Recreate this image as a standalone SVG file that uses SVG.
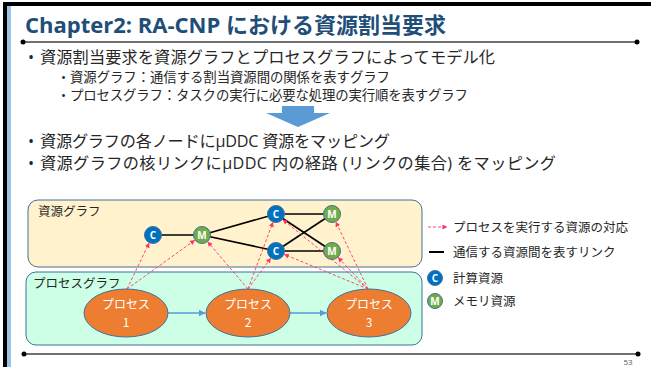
<svg xmlns="http://www.w3.org/2000/svg" width="651" height="367" viewBox="0 0 651 367">
<style>
.t{font-family:"Open Sans","Noto Sans CJK JP",sans-serif;fill:#262626}
.title{font-family:"Open Sans","Noto Sans CJK JP",sans-serif;font-weight:bold;font-size:22px;fill:#1F4E79}
.b1{font-size:16.2px}
.b2{font-size:13.4px}
.lbl{font-family:"Noto Sans CJK JP",sans-serif;font-size:12.5px;fill:#262626}
.nl{font-family:"Open Sans","Noto Sans CJK JP",sans-serif;font-weight:bold;font-size:10px;fill:#fff;text-anchor:middle}
.pl{font-family:"Noto Sans CJK JP",sans-serif;font-size:12px;fill:#fff;text-anchor:middle}
.cn{fill:#0070C0;stroke:#41719C;stroke-width:1}
.mn{fill:#70AD47;stroke:#41719C;stroke-width:1}
.edge{stroke:#000;stroke-width:1.6;fill:none}
.map{stroke:#FF3366;stroke-width:0.9;stroke-dasharray:3 2;fill:none;marker-end:url(#ra)}
.flow{stroke:#5B9BD5;stroke-width:1.5;fill:none;marker-end:url(#ba)}
.proc{fill:#ED7D31;stroke:#41719C;stroke-width:1}
.rule{stroke:#404040;stroke-width:1.5}
</style>
<defs>
<marker id="ra" viewBox="0 0 6 6" refX="5.5" refY="3" markerWidth="5" markerHeight="5" markerUnits="userSpaceOnUse" orient="auto"><path d="M0,0 L6,3 L0,6 z" fill="#FF3366"/></marker>
<marker id="ba" viewBox="0 0 6 6" refX="5.5" refY="3" markerWidth="7" markerHeight="7" markerUnits="userSpaceOnUse" orient="auto"><path d="M0,0 L6,3 L0,6 z" fill="#5B9BD5"/></marker>
</defs>
<rect width="651" height="367" fill="#fff"/>
<!-- frame -->
<rect x="3" y="2" width="648" height="4" fill="#000"/>
<rect x="3" y="2" width="4" height="365" fill="#000"/>
<rect x="7" y="6" width="4" height="361" fill="#9DC3E6"/>
<!-- title -->
<text class="title" x="25" y="33">Chapter2: RA-CNP における資源割当要求</text>
<line class="rule" x1="23" y1="42" x2="637" y2="42"/>
<circle cx="23" cy="42" r="2.5" fill="#000"/>
<circle cx="637" cy="42" r="2.5" fill="#000"/>
<!-- bullets -->
<text class="t b1" x="28" y="63">•</text>
<text class="t b1" x="40" y="63" textLength="455" lengthAdjust="spacing">資源割当要求を資源グラフとプロセスグラフによってモデル化</text>
<text class="t b2" x="61" y="82">•</text>
<text class="t b2" x="70" y="82" textLength="320" lengthAdjust="spacing">資源グラフ：通信する割当資源間の関係を表すグラフ</text>
<text class="t b2" x="61" y="100">•</text>
<text class="t b2" x="70" y="100" textLength="398" lengthAdjust="spacing">プロセスグラフ：タスクの実行に必要な処理の実行順を表すグラフ</text>
<path d="M282,106 H314 V113 H330 L298,127 L266,113 H282 Z" fill="#5B9BD5"/>
<text class="t b1" x="28" y="147">•</text>
<text class="t b1" x="40" y="147" textLength="350" lengthAdjust="spacing">資源グラフの各ノードにμDDC 資源をマッピング</text>
<text class="t b1" x="28" y="169">•</text>
<text class="t b1" x="40" y="169" textLength="516" lengthAdjust="spacing">資源グラフの核リンクにμDDC 内の経路 (リンクの集合) をマッピング</text>
<!-- boxes -->
<g id="resource-graph-box">
<rect x="28" y="200" width="394" height="67" rx="10" fill="#FFF2CC" stroke="#41719C" stroke-width="1"/>
<text class="lbl" x="38" y="216">資源グラフ</text>
</g>
<g id="process-graph-box">
<rect x="26" y="272" width="396" height="73" rx="10" fill="#CCFFE6" stroke="#41719C" stroke-width="1"/>
<text class="lbl" x="33" y="288">プロセスグラフ</text>
</g>
<!-- connectors -->
<g id="connectors">
<line class="edge" x1="153" y1="235" x2="202" y2="235"/>
<line class="edge" x1="202" y1="235" x2="276" y2="214"/>
<line class="edge" x1="202" y1="235" x2="276" y2="251"/>
<line class="edge" x1="276" y1="214" x2="332" y2="214"/>
<line class="edge" x1="276" y1="214" x2="332" y2="251"/>
<line class="edge" x1="276" y1="251" x2="332" y2="214"/>
<line class="edge" x1="276" y1="251" x2="332" y2="251"/>
<line class="flow" x1="168" y1="313" x2="205" y2="313"/>
<line class="flow" x1="290" y1="313" x2="326" y2="313"/>
</g>
<!-- nodes -->
<g id="c1"><circle class="cn" cx="153" cy="235" r="8.5"/><text class="nl" x="153" y="238.5">C</text></g>
<g id="m1"><circle class="mn" cx="202" cy="235" r="8.5"/><text class="nl" x="202" y="238.5">M</text></g>
<g id="c2"><circle class="cn" cx="276" cy="214" r="8.5"/><text class="nl" x="276" y="217.5">C</text></g>
<g id="c3"><circle class="cn" cx="276" cy="251" r="8.5"/><text class="nl" x="276" y="254.5">C</text></g>
<g id="m2"><circle class="mn" cx="332" cy="214" r="8.5"/><text class="nl" x="332" y="217.5">M</text></g>
<g id="m3"><circle class="mn" cx="332" cy="251" r="8.5"/><text class="nl" x="332" y="254.5">M</text></g>
<g id="p1"><ellipse class="proc" cx="126" cy="313" rx="42" ry="24"/><text class="pl" x="126" y="309">プロセス<tspan x="126" dy="17.6">1</tspan></text></g>
<g id="p2"><ellipse class="proc" cx="248" cy="313" rx="42" ry="24"/><text class="pl" x="248" y="309">プロセス<tspan x="248" dy="17.6">2</tspan></text></g>
<g id="p3"><ellipse class="proc" cx="369" cy="313" rx="42" ry="24"/><text class="pl" x="369" y="309">プロセス<tspan x="369" dy="17.6">3</tspan></text></g>
<!-- mapping arrows -->
<g id="mapping-connectors">
<line class="map" x1="127" y1="289" x2="149.1" y2="243.1"/>
<line class="map" x1="127" y1="289" x2="194.7" y2="240.3"/>
<line class="map" x1="248" y1="289" x2="207.8" y2="241.9"/>
<line class="map" x1="248" y1="289" x2="272.9" y2="222.4"/>
<line class="map" x1="248" y1="289" x2="270.7" y2="258.2"/>
<line class="map" x1="368" y1="289" x2="283" y2="219.7"/>
<line class="map" x1="368" y1="289" x2="284.3" y2="254.4"/>
<line class="map" x1="368" y1="289" x2="335.9" y2="222.1"/>
<line class="map" x1="368" y1="289" x2="338.2" y2="257.5"/>
</g>
<!-- legend -->
<g id="legend">
<line class="map" x1="428" y1="227" x2="447" y2="227"/>
<text class="lbl" x="453" y="231.5">プロセスを実行する資源の対応</text>
<line x1="429" y1="252" x2="444" y2="252" stroke="#000" stroke-width="2"/>
<text class="lbl" x="453" y="256.5">通信する資源間を表すリンク</text>
<circle class="cn" cx="435" cy="278" r="7.5"/><text class="nl" x="435" y="281.5">C</text>
<text class="lbl" x="453" y="282.5">計算資源</text>
<circle class="mn" cx="435" cy="301" r="7.5"/><text class="nl" x="435" y="304.5">M</text>
<text class="lbl" x="453" y="305.5">メモリ資源</text>
</g>
<!-- footer -->
<line class="rule" x1="24" y1="354" x2="638" y2="354"/>
<circle cx="24" cy="354" r="2.5" fill="#000"/>
<circle cx="638" cy="354" r="2.5" fill="#000"/>
<text x="628" y="365" font-family="Open Sans, sans-serif" font-size="8px" fill="#595959" text-anchor="middle">53</text>
</svg>
